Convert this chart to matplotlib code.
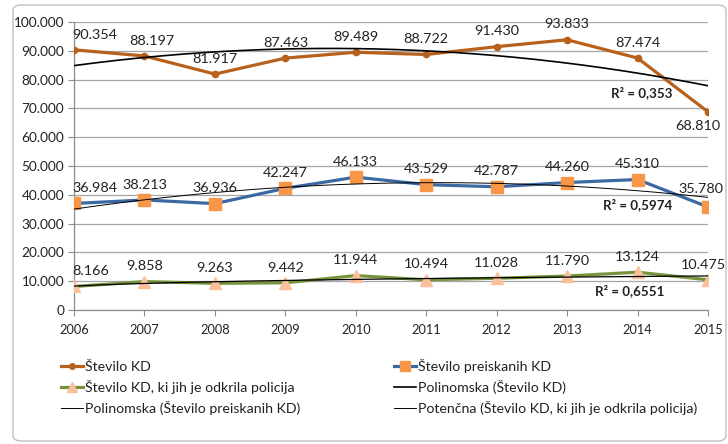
import numpy as np
import matplotlib
matplotlib.use("Agg")
import matplotlib.pyplot as plt
from matplotlib.patches import FancyBboxPatch
from matplotlib.lines import Line2D
from matplotlib.ticker import FuncFormatter

plt.rcParams['font.family'] = ['Lato', 'DejaVu Sans']

years = ['2006', '2007', '2008', '2009', '2010', '2011', '2012', '2013', '2014', '2015']
stevilo_kd = [90354, 88197, 81917, 87463, 89489, 88722, 91430, 93833, 87474, 68810]
preiskanih_kd = [36984, 38213, 36936, 42247, 46133, 43529, 42787, 44260, 45310, 35780]
odkrila_policija = [8166, 9858, 9263, 9442, 11944, 10494, 11028, 11790, 13124, 10475]
r2_labels = ['R² = 0,353', 'R² = 0,5974', 'R² = 0,6551']

def fmt(v):
    return f"{v:,.0f}".replace(",", ".")

W, H = 728, 444
fig = plt.figure(figsize=(W / 100, H / 100), dpi=100)

# chart border
border = FancyBboxPatch((13 / W, 3 / H), (713) / W, (436) / H,
                        boxstyle="round,pad=0,rounding_size=0.012",
                        transform=fig.transFigure, facecolor='none',
                        edgecolor='#BFBFBF', linewidth=1.0)
fig.patches.append(border)

ax = fig.add_axes([74 / W, 1 - 310 / H, (708 - 74) / W, (310 - 22) / H])
x = np.arange(len(years))
xf = x + 1.0

c_kd = '#B8611C'
c_blue = '#3C69A3'
c_sq = '#F79646'
c_green = '#77933C'
c_tri = '#FAC09A'

# trendlines (computed from data as Excel does)
xs = np.linspace(0, len(years) - 1, 200)
p_kd = np.polyfit(xf, stevilo_kd, 2)
p_pr = np.polyfit(xf, preiskanih_kd, 2)
b, a = np.polyfit(np.log(xf), np.log(odkrila_policija), 1)

ax.plot(x, stevilo_kd, color=c_kd, lw=2.3, marker='o', ms=4.5,
        mfc=c_kd, mec=c_kd, zorder=3)
ax.plot(x, preiskanih_kd, color=c_blue, lw=2.3, marker='s', ms=8.3,
        mfc=c_sq, mec=c_sq, zorder=3)
ax.plot(x, odkrila_policija, color=c_green, lw=2.3, marker='^', ms=8.5,
        mfc=c_tri, mec=c_tri, zorder=3)

ax.plot(xs, np.polyval(p_kd, xs + 1), color='black', lw=1.2, zorder=4)
ax.plot(xs, np.polyval(p_pr, xs + 1), color='black', lw=0.7, zorder=4)
ax.plot(xs, np.exp(a) * (xs + 1) ** b, color='black', lw=0.9, zorder=4)

# data labels
def labels(vals, special=None):
    special = special or {}
    for i, v in enumerate(vals):
        dx, dy, ha = 0, 11, 'center'
        if i == 0:
            dx, ha = -1, 'left'
        if i in special:
            dx, dy, ha = special[i]
        ax.annotate(fmt(v), (x[i], v), xytext=(dx, dy), textcoords='offset points',
                    ha=ha, va='center', fontsize=10.4, color='#222222', zorder=5,
                    annotation_clip=False)

labels(stevilo_kd, {1: (5, 11, 'center'), 9: (-7, -10.5, 'center')})
labels(preiskanih_kd, {9: (-5, 13, 'center')})
labels(odkrila_policija, {9: (-3, 11, 'center')})

# R^2 labels (figure pixel positions)
def px_text(px, py, s):
    fig.text(px / W, 1 - py / H, s, ha='center', va='center', fontsize=9.6,
             fontweight='bold', color='#222222')
px_text(642, 93, r2_labels[0])
px_text(638, 205, r2_labels[1])
px_text(630, 291, r2_labels[2])

ax.set_xlim(0, len(years) - 1)
ax.set_ylim(0, 100000)
ax.set_yticks(np.arange(0, 100001, 10000))
ax.yaxis.set_major_formatter(FuncFormatter(lambda v, p: fmt(v)))
ax.set_xticks(x)
ax.set_xticklabels(years)
ax.grid(axis='y', color='#A6A6A6', lw=0.9)
ax.set_axisbelow(True)
for s in ['top', 'right']:
    ax.spines[s].set_visible(False)
for s in ['left', 'bottom']:
    ax.spines[s].set_color('#8C8C8C')
    ax.spines[s].set_linewidth(0.9)
ax.tick_params(axis='x', length=4, labelsize=9.2, pad=6)
ax.tick_params(axis='y', length=4, labelsize=9.8, pad=3)
ax.tick_params(axis='both', colors='#8C8C8C', labelcolor='#222222')

# legend
handles = [
    Line2D([], [], color=c_kd, lw=2.3, marker='o', ms=4, mfc=c_kd, mec=c_kd),
    Line2D([], [], color=c_green, lw=2.3, marker='^', ms=7, mfc=c_tri, mec=c_tri),
    Line2D([], [], color='black', lw=0.7),
    Line2D([], [], color=c_blue, lw=2.3, marker='s', ms=6.5, mfc=c_sq, mec=c_sq),
    Line2D([], [], color='black', lw=1.2),
    Line2D([], [], color='black', lw=0.7),
]
names = ['Število KD', 'Število KD, ki jih je odkrila policija',
         'Polinomska (Število preiskanih KD)', 'Število preiskanih KD',
         'Polinomska (Število KD)', 'Potenčna (Število KD, ki jih je odkrila policija)']
leg = fig.legend(handles, names, ncol=2, loc='upper left',
                 bbox_to_anchor=(55 / W, 1 - 353 / H), frameon=False,
                 fontsize=10.2, handlelength=1.6, handletextpad=0.1,
                 columnspacing=6.6, labelspacing=0.5, borderaxespad=0)
for t in leg.get_texts():
    t.set_color('#222222')

fig.savefig('out.png', dpi=100)
